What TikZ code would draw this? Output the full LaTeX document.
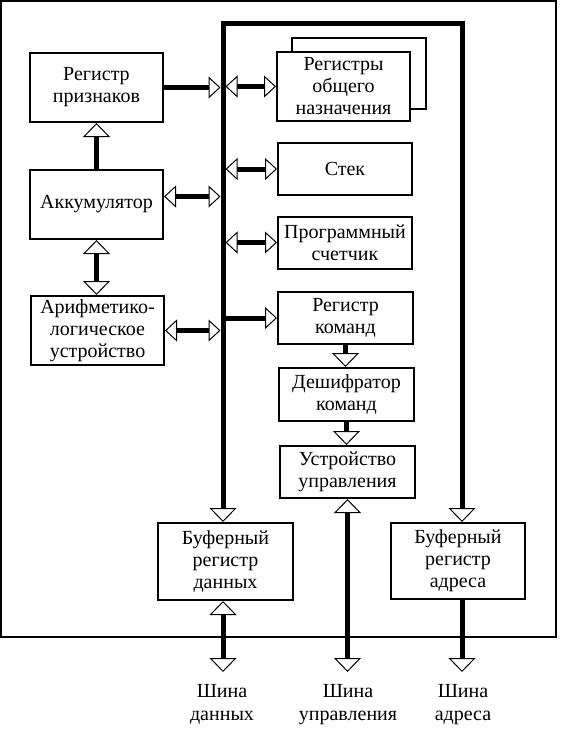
\documentclass[tikz,border=0pt]{standalone}
\usepackage{fontspec}
\setmainfont{Liberation Serif}
\usetikzlibrary{arrows.meta,positioning}

\tikzset{
  tri/.tip={Triangle[fill=white,line width=1pt,width=22pt,length=12pt]},
  vtri/.tip={Triangle[fill=white,line width=1pt,width=27pt,length=14pt]},
  blk/.style={draw,line width=2pt,fill=white,align=center,inner sep=0pt,
    font=\fontsize{20}{22}\selectfont},
  lbl/.style={align=center,inner sep=0pt,anchor=north,font=\fontsize{20}{23}\selectfont},
  link/.style={line width=5pt},
  bus/.style={line width=5pt,line join=miter},
}

\begin{document}
\begin{tikzpicture}[x=1pt,y=-1pt]
        \useasboundingbox (0,0) rectangle (568,729);
        \draw[line width=2pt] (1,1) rectangle (556,637);
        % left column
        \node[blk,minimum width=133pt,minimum height=69pt] (rp) at (96.5,87.5) {Регистр\\признаков};
        \node[blk,minimum width=133pt,minimum height=69pt] (acc) at (96.5,204.5) {Аккумулятор};
        \node[blk,minimum width=133pt,minimum height=69pt] (alu) at (97.5,330.5) {Арифметико-\\логическое\\устройство};
        % right column
        \node[blk,minimum width=134pt,minimum height=71pt] (ronback) at (359,73.5) {};
        \node[blk,minimum width=133pt,minimum height=69pt] (ron) at (343.5,86.5) {Регистры\\общего\\назначения};
        \node[blk,minimum width=134pt,minimum height=52pt] (stack) at (345,169) {Стек};
        \node[blk,minimum width=134pt,minimum height=52pt] (pc) at (345,242.5) {Программный\\счетчик};
        \node[blk,minimum width=135pt,minimum height=52pt] (rk) at (345.5,318) {Регистр\\команд};
        \node[blk,minimum width=135pt,minimum height=53pt] (dk) at (346.5,394.5) {Дешифратор\\команд};
        \node[blk,minimum width=135pt,minimum height=52pt] (uu) at (347.5,472) {Устройство\\управления};
        % buffers
        \node[blk,minimum width=135pt,minimum height=77pt] (brd) at (225.5,561.5) {Буферный\\регистр\\данных};
        \node[blk,minimum width=134pt,minimum height=76pt] (bra) at (458,561) {Буферный\\регистр\\адреса};
        % outside buses
        \node[lbl] (sd) at (222,684) {Шина\\данных};
        \node[lbl] (su) at (348,684) {Шина\\управления};
        \node[lbl] (sa) at (463,684) {Шина\\адреса};
        % inner bus
        \coordinate (bl) at (223,23);
        \coordinate (br) at (462,23);
        \draw[bus,{vtri}-{vtri}] (bl |- brd.north) -- (bl) -- (br) -- (br |- bra.north);
        % links to bus
        \draw[link,-{tri},shorten >=2.5pt] (rp.east) -- (bl |- rp.east);
        \draw[link,{tri}-{tri},shorten <=2.5pt] (bl |- ron.west) -- (ron.west);
        \draw[link,{tri}-{tri},shorten >=2.5pt] ([yshift=8pt]acc.east) -- ([yshift=8pt]acc.east -| bl);
        \draw[link,{tri}-{tri},shorten <=2.5pt] (bl |- stack.west) -- (stack.west);
        \draw[link,{tri}-{tri},shorten <=2.5pt] (bl |- pc.west) -- (pc.west);
        \draw[link,{tri}-{tri},shorten >=2.5pt] (alu.east) -- (alu.east -| bl);
        \draw[link,-{tri}] (bl |- rk.west) -- (rk.west);
        % vertical links
        \draw[link,-{vtri}] (acc.north) -- (rp.south);
        \draw[link,{vtri}-{vtri}] (acc.south) -- (acc.south |- alu.north);
        \draw[link,-{vtri}] (rk.south) -- (rk.south |- dk.north);
        \draw[link,-{vtri}] (dk.south) -- (dk.south |- uu.north);
        \draw[link,{vtri}-{vtri},shorten >=12pt] (uu.south) -- (uu.south |- su.north);
        \draw[link,{vtri}-{vtri},shorten >=12pt] (bl |- brd.south) -- (bl |- sd.north);
        \draw[link,-{vtri},shorten >=12pt] (br |- bra.south) -- (br |- sa.north);
\end{tikzpicture}
\end{document}
